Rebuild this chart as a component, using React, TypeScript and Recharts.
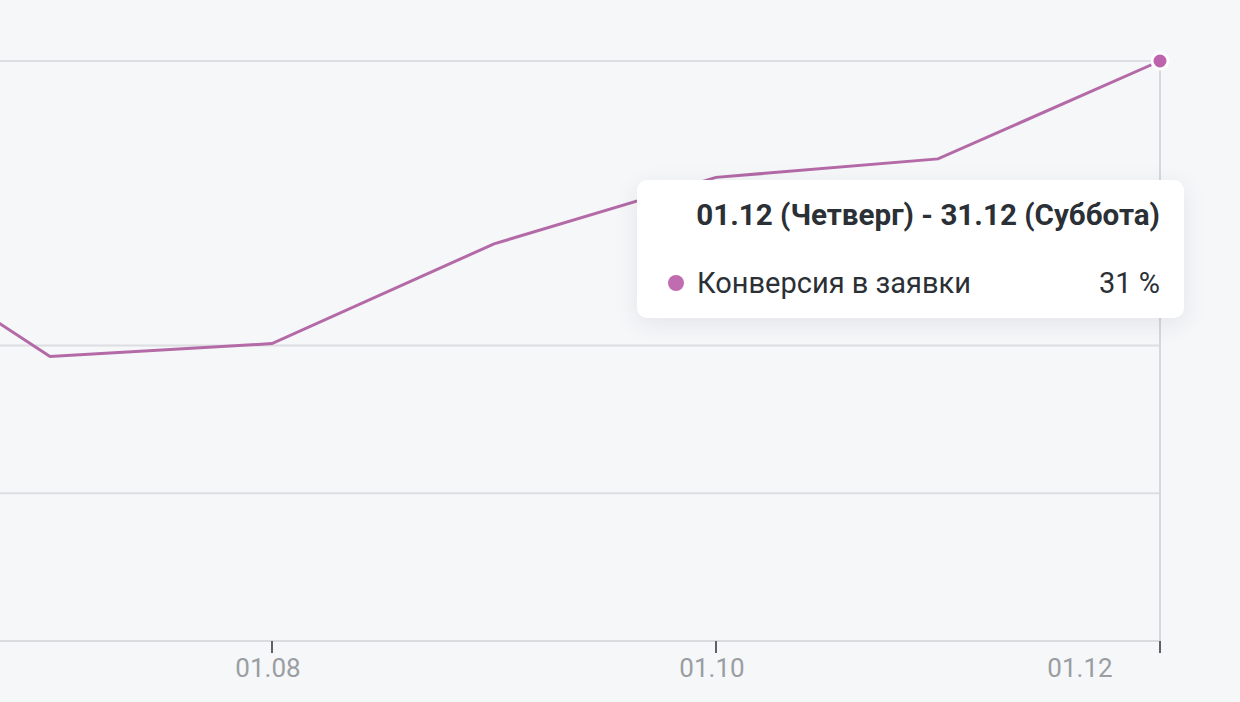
import { CartesianGrid, Line, LineChart, Tooltip, XAxis, YAxis } from "recharts";

const months = ["01.06", "01.07", "01.08", "01.09", "01.10", "01.11", "01.12"];
const periods = [
  "01.06 (Среда) - 30.06 (Четверг)",
  "01.07 (Пятница) - 31.07 (Воскресенье)",
  "01.08 (Понедельник) - 31.08 (Среда)",
  "01.09 (Четверг) - 30.09 (Пятница)",
  "01.10 (Суббота) - 31.10 (Понедельник)",
  "01.11 (Вторник) - 30.11 (Среда)",
  "01.12 (Четверг) - 31.12 (Суббота)",
];
const conversion = [23.3, 15.4, 16.1, 21.5, 25.1, 26.1, 31.4];
const yTicks = [0, 8, 16, 31.4];
const seriesName = "Конверсия в заявки";

const data = months.map((month, i) => ({ month, period: periods[i], value: conversion[i] }));

const FONT = "Roboto, 'Noto Sans', sans-serif";
const LINE_COLOR = "#b36aa7";

function MonthTick({ x, y, payload }: any) {
  // first label falls outside the visible crop
  if (payload.value === months[0]) return null;
  // last label sits left of its tick, like in the original widget
  const isLast = payload.value === months[months.length - 1];
  return (
    <text
      x={x + (isLast ? -80 : -4)}
      y={y}
      dy={22}
      textAnchor="middle"
      fill="#9a9ea3"
      fontSize={26}
      fontFamily={FONT}
    >
      {payload.value}
    </text>
  );
}

function PeriodTooltip({ active, payload }: any) {
  if (!active || !payload || !payload.length) return null;
  const item = payload[0];
  return (
    <div
      style={{
        boxSizing: "border-box",
        width: 547,
        height: 138,
        padding: "20px 24px 20px 31px",
        background: "#fff",
        borderRadius: 10,
        boxShadow: "0 6px 24px rgba(30, 40, 60, 0.09)",
        fontFamily: FONT,
        color: "#2b3036",
      }}
    >
      <div style={{ textAlign: "right", fontWeight: 700, fontSize: 29.6, lineHeight: "30px", whiteSpace: "nowrap" }}>
        {item.payload.period}
      </div>
      <div style={{ display: "flex", alignItems: "center", marginTop: 38, fontSize: 29, lineHeight: "30px" }}>
        <span
          style={{
            width: 16,
            height: 16,
            borderRadius: 8,
            background: "#c06cb1",
            marginRight: 13,
            flex: "none",
          }}
        />
        <span style={{ flex: 1 }}>{seriesName}</span>
        <span>{Math.round(item.value)} %</span>
      </div>
    </div>
  );
}

export default function App() {
  return (
    <div
      style={{
        position: "fixed",
        left: 0,
        top: 0,
        width: 1240,
        height: 702,
        overflow: "hidden",
        background: "#f6f7f9",
      }}
    >
      <div style={{ position: "absolute", left: -172, top: 0 }}>
        <LineChart width={1412} height={702} data={data} margin={{ top: 61, right: 80, bottom: 31, left: 0 }}>
          <CartesianGrid horizontal vertical={false} stroke="#dcdee1" strokeWidth={2} />
          <YAxis hide domain={[0, "dataMax"]} ticks={yTicks} />
          <XAxis
            dataKey="month"
            interval={1}
            height={30}
            tickSize={12}
            tickLine={{ stroke: "#5d6268", strokeWidth: 2 }}
            axisLine={{ stroke: "#d9dbde", strokeWidth: 2 }}
            tick={<MonthTick />}
          />
          <Tooltip
            content={<PeriodTooltip />}
            defaultIndex={6}
            position={{ x: 809, y: 180 }}
            cursor={{ stroke: "#d5d7da", strokeWidth: 2 }}
            wrapperStyle={{ outline: "none" }}
          />
          <Line
            type="linear"
            dataKey="value"
            name={seriesName}
            stroke={LINE_COLOR}
            strokeWidth={3}
            dot={false}
            activeDot={{ r: 8, fill: "#bd64ad", stroke: "#fff", strokeWidth: 3 }}
            isAnimationActive={false}
          />
        </LineChart>
      </div>
    </div>
  );
}
